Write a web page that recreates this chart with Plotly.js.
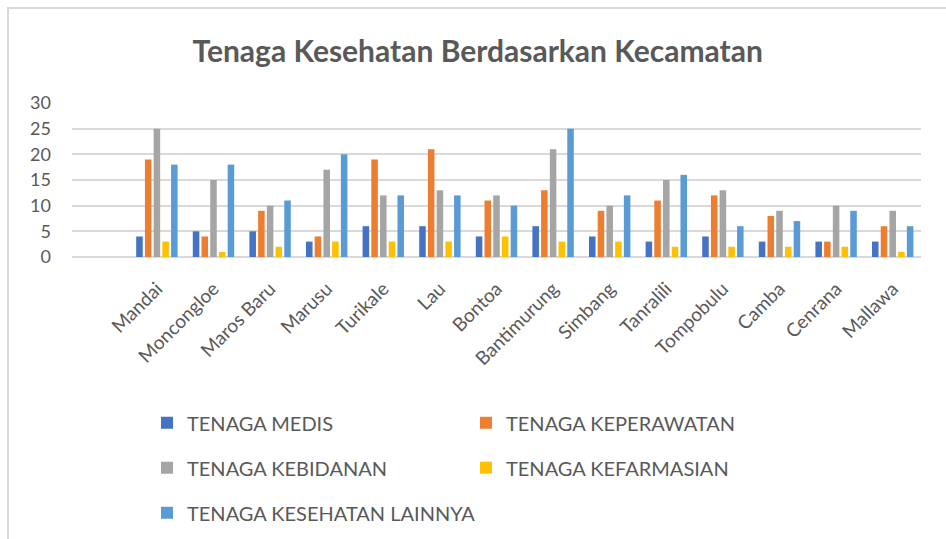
<!DOCTYPE html>
<html>
<head>
<meta charset="utf-8">
<script src="https://cdn.plot.ly/plotly-3.0.1.min.js"></script>
<style>
  html, body { margin: 0; padding: 0; background: #ffffff; }
  #wrap { position: relative; width: 946px; height: 539px; overflow: hidden; }
  #chart { position: absolute; left: 0; top: 0; width: 946px; height: 539px; }
  #frame { position: absolute; left: 7px; top: 7px; width: 960px; height: 560px;
           border-left: 2px solid #D9D9D9; border-top: 2px solid #D9D9D9; pointer-events: none; }
</style>
</head>
<body>
<div id="wrap">
  <div id="chart"></div>
  <div id="frame"></div>
</div>
<script>
// ---- data ----
const chartTitle = "Tenaga Kesehatan Berdasarkan Kecamatan";
const kecamatan = ["Mandai", "Moncongloe", "Maros Baru", "Marusu", "Turikale", "Lau", "Bontoa",
                   "Bantimurung", "Simbang", "Tanralili", "Tompobulu", "Camba", "Cenrana", "Mallawa"];
const seriesNames = ["TENAGA MEDIS", "TENAGA KEPERAWATAN", "TENAGA KEBIDANAN",
                     "TENAGA KEFARMASIAN", "TENAGA KESEHATAN LAINNYA"];
const tenagaMedis       = [4, 5, 5, 3, 6, 6, 4, 6, 4, 3, 4, 3, 3, 3];
const tenagaKeperawatan = [19, 4, 9, 4, 19, 21, 11, 13, 9, 11, 12, 8, 3, 6];
const tenagaKebidanan   = [25, 15, 10, 17, 12, 13, 12, 21, 10, 15, 13, 9, 10, 9];
const tenagaKefarmasian = [3, 1, 2, 3, 3, 3, 4, 3, 3, 2, 2, 2, 2, 1];
const tenagaLainnya     = [18, 18, 11, 20, 12, 12, 10, 25, 12, 16, 6, 7, 9, 6];
const yTicks = [0, 5, 10, 15, 20, 25, 30];

// ---- styling ----
const colors = ["#4472C4", "#ED7D31", "#A5A5A5", "#FFC000", "#5B9BD5"];
const legendIds = ["legend", "legend", "legend2", "legend2", "legend3"];
const values = [tenagaMedis, tenagaKeperawatan, tenagaKebidanan, tenagaKefarmasian, tenagaLainnya];
const FONT = "Lato, 'Open Sans', sans-serif";
const TXT = "#595959";

const traces = values.map((v, i) => ({
  type: "bar",
  name: seriesNames[i],
  x: kecamatan,
  y: v,
  marker: { color: colors[i], line: { width: 0 } },
  legend: legendIds[i],
  hoverinfo: "x+y+name"
}));

const W = 946, H = 539;
const plotTop = 103, plotBottom = 257;
const plotLeft = 72, plotRight = 921;
function cy(py) { return 1 - py / H; }
function cx(px) { return px / W; }

const legendBase = {
  orientation: "h",
  font: { family: FONT, size: 20, color: TXT },
  bgcolor: "rgba(0,0,0,0)",
  xref: "container",
  yref: "container",
  xanchor: "left",
  yanchor: "middle",
  entrywidth: 274,
  entrywidthmode: "pixels",
  itemclick: false,
  itemdoubleclick: false
};

const layout = {
  width: W,
  height: H,
  paper_bgcolor: "#ffffff",
  plot_bgcolor: "#ffffff",
  margin: { l: plotLeft, r: W - plotRight, t: plotTop, b: H - plotBottom, pad: 0, autoexpand: false },
  font: { family: FONT, color: TXT },
  title: {
    text: "<b>" + chartTitle + "</b>",
    font: { family: FONT, size: 30, color: TXT },
    xref: "container", x: 0.505, xanchor: "center",
    yref: "container", y: cy(51), yanchor: "middle"
  },
  barmode: "group",
  bargap: 0.23,
  bargroupgap: 0.25,
  xaxis: {
    type: "category",
    range: [-1.5, 13.5],
    tickangle: -45,
    tickfont: { family: FONT, size: 19, color: TXT },
    showgrid: false,
    showline: false,
    zeroline: false,
    ticks: "",
    ticklabelstandoff: 16,
    automargin: false,
    fixedrange: true
  },
  yaxis: {
    range: [0, 30],
    tickvals: yTicks,
    ticktext: yTicks.map(String),
    tickfont: { family: FONT, size: 18, color: TXT },
    showgrid: true,
    gridcolor: "#D9D9D9",
    gridwidth: 2,
    zeroline: true,
    zerolinecolor: "#D9D9D9",
    zerolinewidth: 2,
    showline: false,
    ticks: "",
    ticklabelstandoff: 20,
    automargin: false,
    fixedrange: true
  },
  legend:  Object.assign({}, legendBase, { x: cx(147), y: cy(422.7) }),
  legend2: Object.assign({}, legendBase, { x: cx(147), y: cy(467.7) }),
  legend3: Object.assign({}, legendBase, { x: cx(147), y: cy(512.7), entrywidth: 0 }),
  showlegend: true
};

Plotly.newPlot("chart", traces, layout, { displayModeBar: false, responsive: false });
</script>
</body>
</html>
